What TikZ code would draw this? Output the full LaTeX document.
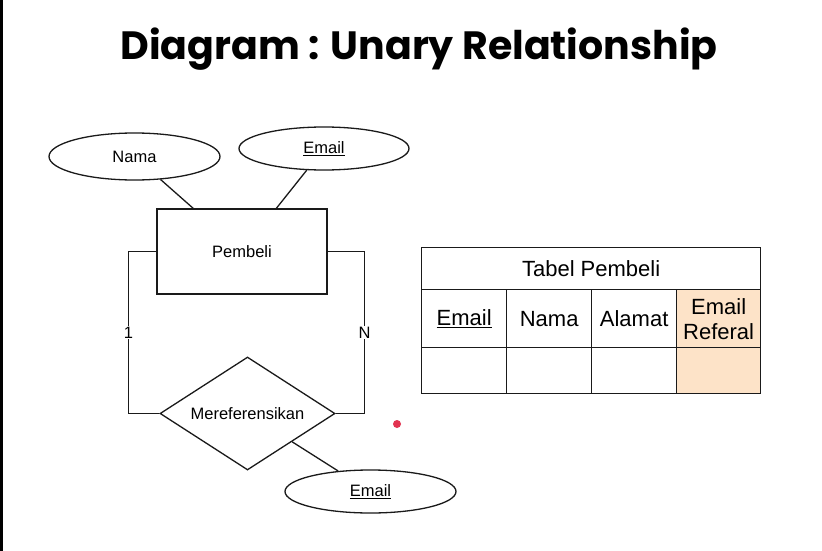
\documentclass[tikz,border=0pt]{standalone}
\usepackage{fontspec}
\setmainfont{Liberation Sans}
\newfontfamily\titlefont{Poppins}
\usetikzlibrary{shapes.geometric,calc}
\definecolor{peach}{HTML}{FDE3C8}
\definecolor{reddot}{HTML}{E23350}
\definecolor{linegray}{HTML}{1A1A1A}
\tikzset{
  erline/.style={line width=1.3pt, draw=linegray},
  attr/.style={ellipse, erline, inner sep=0pt, font=\fontsize{16.5}{19}\selectfont},
  entity/.style={rectangle, erline, inner sep=0pt, minimum width=170pt, minimum height=85pt, font=\fontsize{16.5}{19}\selectfont},
  relbox/.style={diamond, aspect=1.55, erline, inner sep=0pt, minimum width=175pt, minimum height=113pt, font=\fontsize{16.5}{19}\selectfont},
  card/.style={fill=white, inner sep=1pt, font=\fontsize{16.5}{19}\selectfont},
  cell/.style={rectangle, draw=linegray, line width=1.3pt, anchor=north west, inner sep=0pt, minimum height=58pt, align=center, font=\fontsize{22}{25}\selectfont},
}
\begin{document}
\begin{tikzpicture}[x=1pt,y=-1pt]
\useasboundingbox (0,0) rectangle (822,551);
\fill[white] (0,0) rectangle (822,551);
\fill[black] (0,0) rectangle (2.5,551);

\node[font=\titlefont\bfseries\fontsize{39.5}{46}\selectfont] (title) at (419,49) {Diagram : Unary Relationship};

% ER diagram
\node[attr, minimum width=171pt, minimum height=47pt] (nama) at (134.5,156.5) {Nama};
\node[attr, minimum width=170pt, minimum height=43pt] (email1) at (324,148.5) {\underline{Email}};
\node[entity] (pem) at (242,251.5) {Pembeli};
\node[relbox] (rel) at (247.5,413.5) {Mereferensikan};
\node[attr, minimum width=171pt, minimum height=43pt] (email2) at (370.5,491.5) {\underline{Email}};

\draw[erline] (nama) -- (pem);
\draw[erline] (email1) -- (pem);
\draw[erline] (rel) -- (email2);
\draw[erline] (pem.west) -- ++(-28,0) |- (rel.west) node[card, pos=0.25] {1};
\draw[erline] (pem.east) -- ++(37,0) |- (rel.east) node[card, pos=0.25] {N};

% red dot
\fill[reddot] (397,424) circle (4);

% table
\node[cell, minimum width=339pt, minimum height=42pt] (thead) at (421,247) {Tabel Pembeli};
\node[cell, minimum width=85pt] (c11) at (421,289) {\underline{Email}};
\node[cell, minimum width=85pt] (c12) at (506,289) {Nama};
\node[cell, minimum width=85pt] (c13) at (591,289) {Alamat};
\node[cell, minimum width=84pt, fill=peach] (c14) at (676,289) {Email\\Referal};
\node[cell, minimum width=85pt, minimum height=46pt] (c21) at (421,347) {};
\node[cell, minimum width=85pt, minimum height=46pt] (c22) at (506,347) {};
\node[cell, minimum width=85pt, minimum height=46pt] (c23) at (591,347) {};
\node[cell, minimum width=84pt, minimum height=46pt, fill=peach] (c24) at (676,347) {};
\end{tikzpicture}
\end{document}
